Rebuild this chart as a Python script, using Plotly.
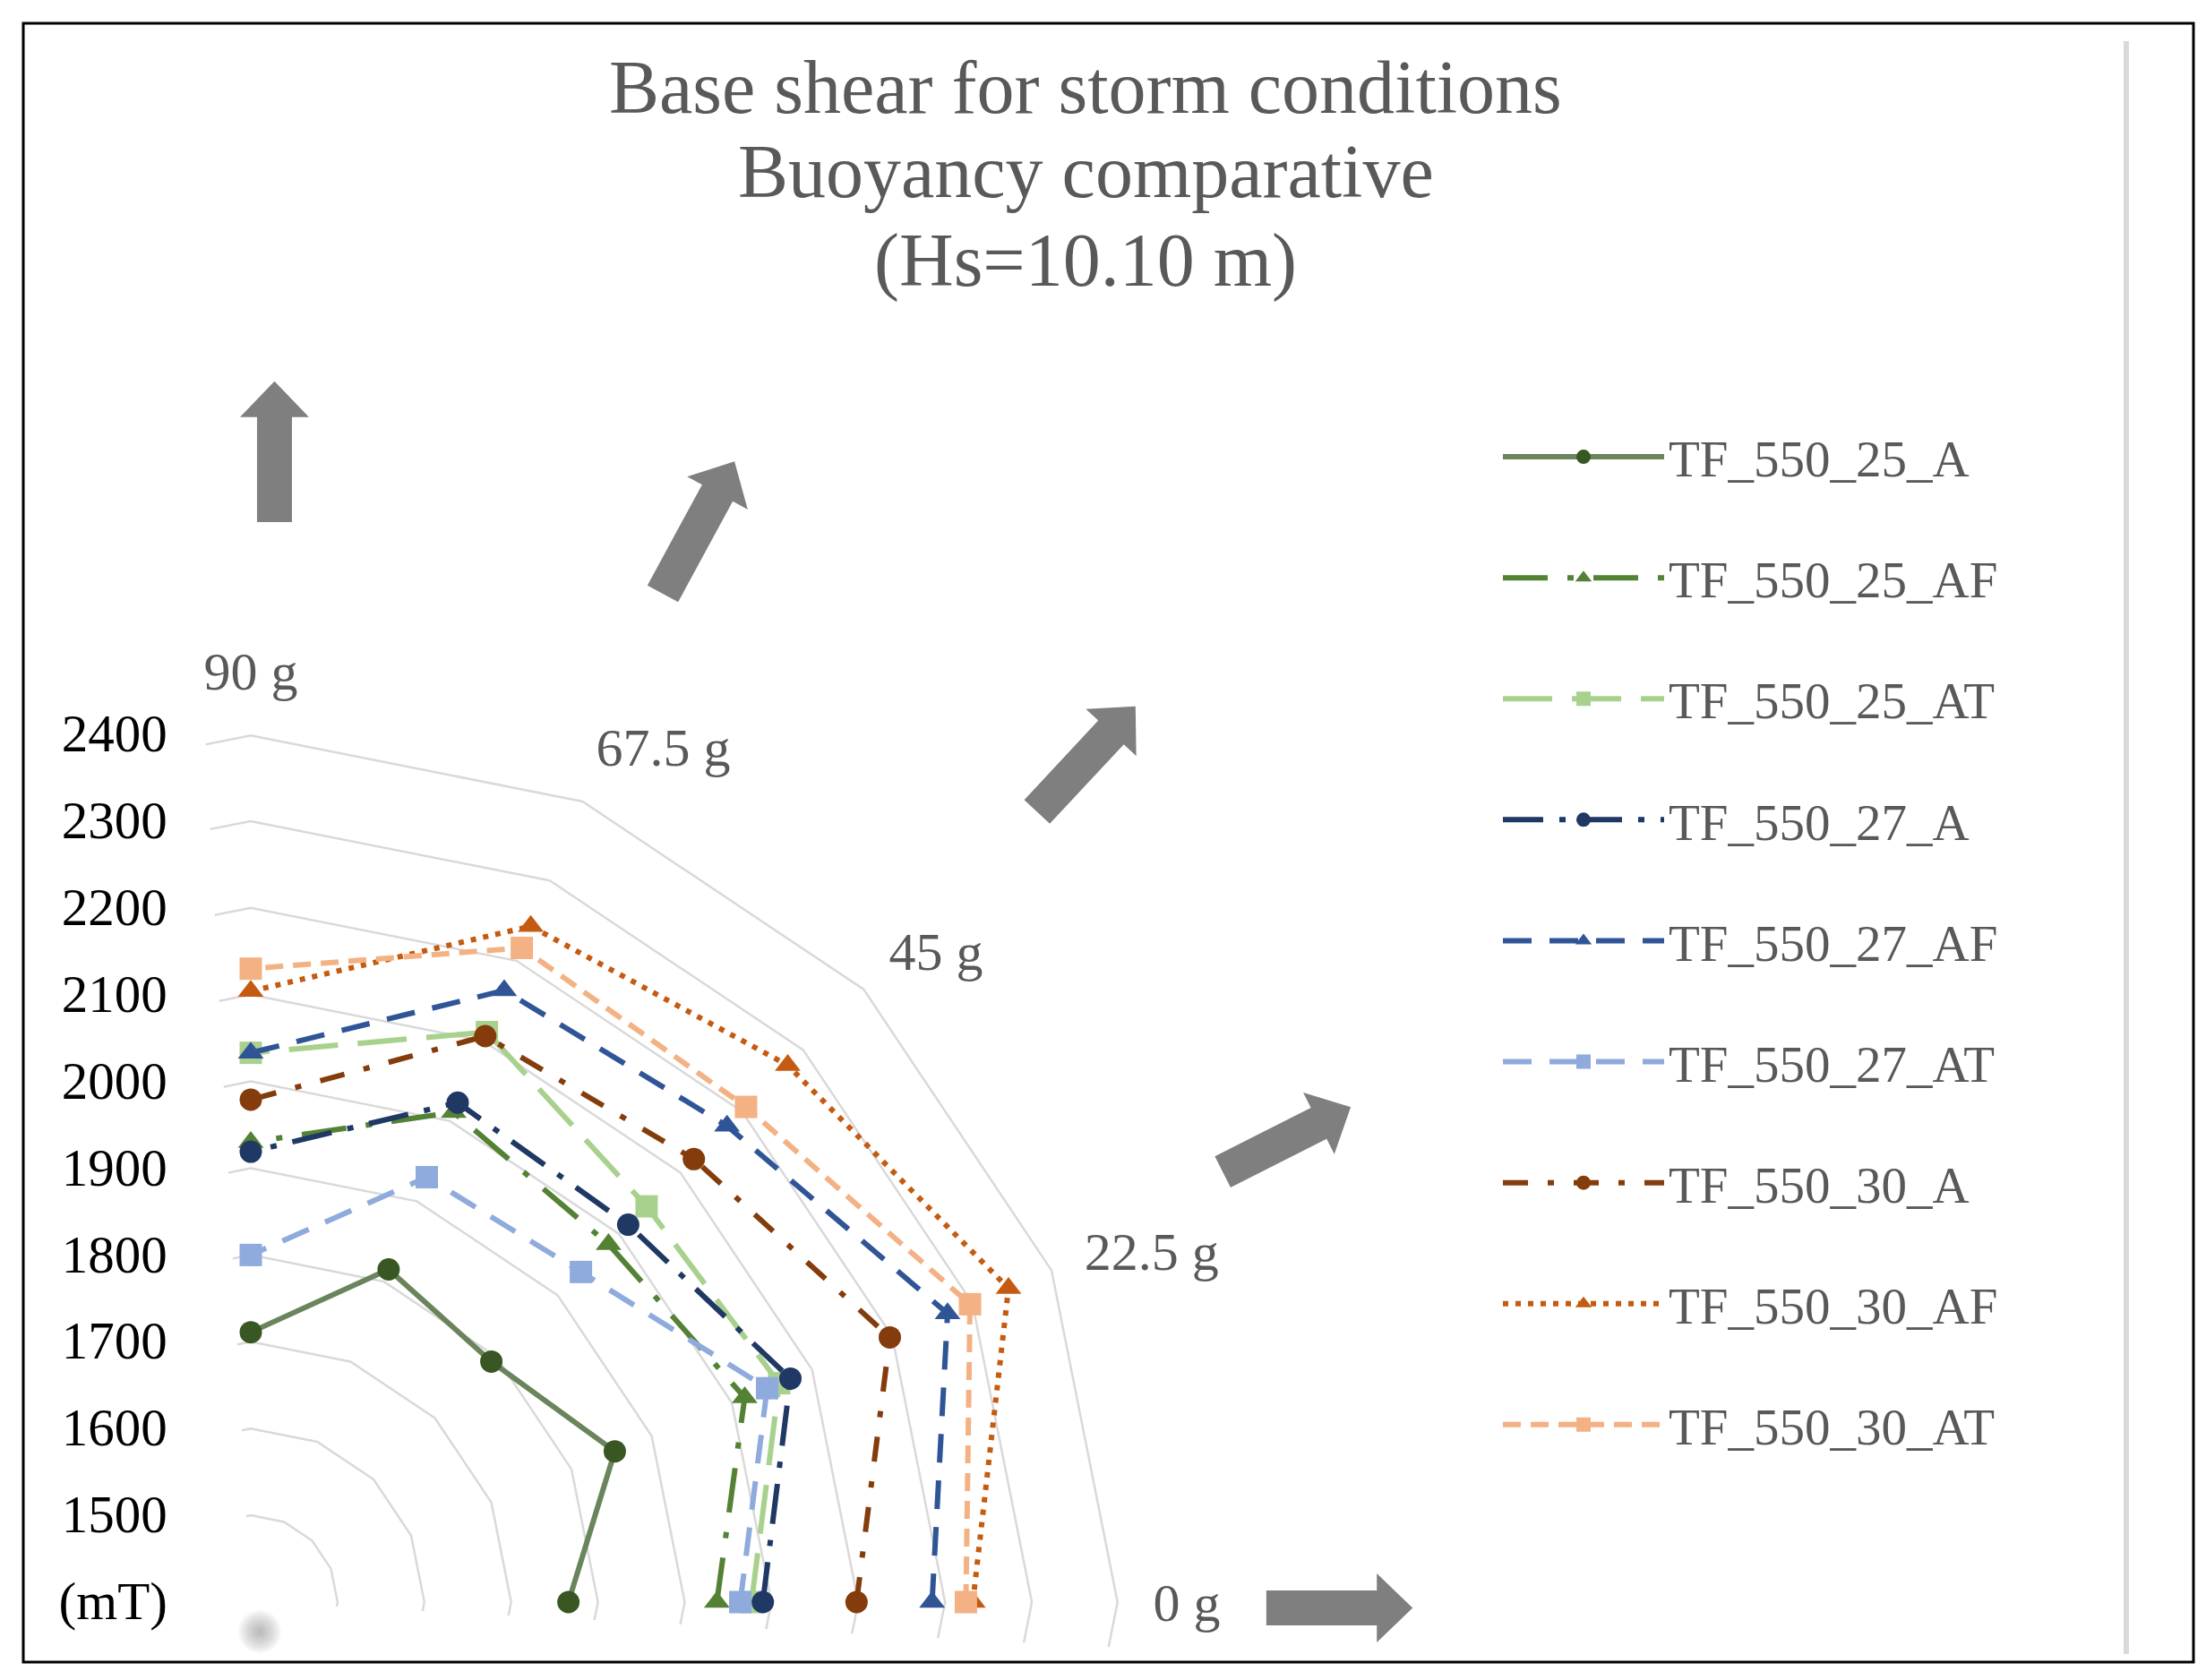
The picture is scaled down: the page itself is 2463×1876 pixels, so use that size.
import plotly.graph_objects as go

W, H = 2463, 1876

# ---------------- data ----------------
directions = ["0 g", "22.5 g", "45 g", "67.5 g", "90 g"]
unused_directions = [" " * k for k in range(1, 12)]  # remaining radar spokes (hidden)

radial_ticks = [1400, 1500, 1600, 1700, 1800, 1900, 2000, 2100, 2200, 2300, 2400]
radial_ticktext = ["(mT)", "1500", "1600", "1700", "1800", "1900", "2000", "2100", "2200", "2300", "2400"]

series_names = ["TF_550_25_A", "TF_550_25_AF", "TF_550_25_AT",
                "TF_550_27_A", "TF_550_27_AF", "TF_550_27_AT",
                "TF_550_30_A", "TF_550_30_AF", "TF_550_30_AT"]

tf_550_25_a = [1766, 1854, 1792, 1815, 1711]
tf_550_25_af = [1937, 2016, 1983, 2011, 1930]
tf_550_25_at = [1977, 2059, 2045, 2111, 2033]
tf_550_27_a = [1990, 2073, 2015, 2023, 1919]
tf_550_27_af = [2185, 2269, 2176, 2163, 2033]
tf_550_27_at = [1964, 2044, 1938, 1930, 1800]
tf_550_30_a = [2098, 2197, 2122, 2106, 1979]
tf_550_30_af = [2232, 2345, 2275, 2243, 2104]
tf_550_30_at = [2224, 2297, 2207, 2216, 2130]

values = [tf_550_25_a, tf_550_25_af, tf_550_25_at,
          tf_550_27_a, tf_550_27_af, tf_550_27_at,
          tf_550_30_a, tf_550_30_af, tf_550_30_at]

title_lines = ["Base shear for storm conditions", "Buoyancy comparative", "(Hs=10.10 m)"]

# ---------------- styles ----------------
styles = [
    dict(lc="#6A845C", mc="#385723", dash="solid", sym="circle"),
    dict(lc="#548235", mc="#548235", dash="50px,22px,7px,22px", sym="triangle-up"),
    dict(lc="#A9D18E", mc="#A9D18E", dash="55px,22px", sym="square"),
    dict(lc="#1F3864", mc="#1F3864", dash="45px,18px,7px,18px", sym="circle"),
    dict(lc="#2F5597", mc="#2F5597", dash="32px,20px", sym="triangle-up"),
    dict(lc="#8FAADC", mc="#8FAADC", dash="32px,20px", sym="square"),
    dict(lc="#843C0C", mc="#843C0C", dash="28px,22px,7px,22px", sym="circle"),
    dict(lc="#C55A11", mc="#C55A11", dash="6px,8px", sym="triangle-up"),
    dict(lc="#F4B183", mc="#F4B183", dash="20px,11px", sym="square"),
]

FONT = "Liberation Serif, Times New Roman, serif"

fig = go.Figure()

# radar grid polygons (drawn through the polar scale, clipped by the sector)
grid_theta = [unused_directions[-1]] + directions + [unused_directions[0]]
for lvl in radial_ticks[1:]:
    fig.add_trace(go.Scatterpolar(
        r=[lvl] * len(grid_theta), theta=grid_theta, mode="lines",
        line=dict(color="#D9D9D9", width=5 if lvl == radial_ticks[-1] else 2.5),
        showlegend=False, hoverinfo="skip",
    ))

for i, (name, vals, st) in enumerate(zip(series_names, values, styles)):
    fig.add_trace(go.Scatterpolar(
        r=vals, theta=directions, name=name, mode="lines+markers",
        line=dict(color=st["lc"], width=6, dash=st["dash"]),
        marker=dict(color=st["mc"], size=25, symbol=st["sym"]),
        legendgroup=name,
    ))

# ---------------- decorations (pixel -> paper) ----------------
def px(x, y):
    return x / W, 1 - y / H

def arrow_path(tail, tip, shaft_w, head_w, head_len):
    import math
    tx, ty = tail
    hx, hy = tip
    L = math.hypot(hx - tx, hy - ty)
    ux, uy = (hx - tx) / L, (hy - ty) / L
    nx, ny = -uy, ux
    bx, by = hx - ux * head_len, hy - uy * head_len
    pts = [
        (tx + nx * shaft_w / 2, ty + ny * shaft_w / 2),
        (bx + nx * shaft_w / 2, by + ny * shaft_w / 2),
        (bx + nx * head_w / 2, by + ny * head_w / 2),
        (hx, hy),
        (bx - nx * head_w / 2, by - ny * head_w / 2),
        (bx - nx * shaft_w / 2, by - ny * shaft_w / 2),
        (tx - nx * shaft_w / 2, ty - ny * shaft_w / 2),
    ]
    s = ""
    for k, (x, y) in enumerate(pts):
        X, Y = px(x, y)
        s += ("M" if k == 0 else "L") + f"{X:.5f},{Y:.5f} "
    return s + "Z"

S = 2463 / 1568
arrow_defs = [((190, 366), (190, 266)),
              ((466, 417), (517, 323)),
              ((732, 572), (802, 497)),
              ((864, 828), (955, 782)),
              ((895, 1138), (999, 1138))]
shapes = []
for tail, tip in arrow_defs:
    shapes.append(dict(type="path", xref="paper", yref="paper",
                       path=arrow_path((tail[0] * S, tail[1] * S), (tip[0] * S, tip[1] * S),
                                       39, 77, 40),
                       fillcolor="#7F7F7F", line=dict(width=0)))

# outer frame
x0, y0 = px(18, 18)
x1, y1 = px(2441, 1848)
shapes.append(dict(type="rect", xref="paper", yref="paper", x0=x0, y0=y1, x1=x1, y1=y0,
                   line=dict(color="black", width=3), fillcolor="rgba(0,0,0,0)"))
# light vertical separator at right
vx, vy0 = px(2366, 38)
_, vy1 = px(2366, 1839)
shapes.append(dict(type="line", xref="paper", yref="paper", x0=vx, x1=vx, y0=vy0, y1=vy1,
                   line=dict(color="#D9D9D9", width=6)))
# soft grey blob near origin
for k in range(12):
    rad = 24 - 2 * k
    cx, cy = 282, 1814
    ax0, ay0 = px(cx - rad, cy - rad)
    ax1, ay1 = px(cx + rad, cy + rad)
    shapes.append(dict(type="circle", xref="paper", yref="paper", x0=ax0, y0=ay1, x1=ax1, y1=ay0,
                       fillcolor="rgba(130,130,130,0.06)", line=dict(width=0)))

# title lines (tight line spacing as in the reference)
annotations = []
for line, yc in zip(title_lines, [57, 117, 180]):
    annotations.append(dict(text=line, xref="paper", yref="paper", x=0.489, y=1 - yc * S / H,
                            xanchor="center", yanchor="middle", showarrow=False,
                            font=dict(family=FONT, size=84, color="#595959")))

fig.update_layout(
    width=W, height=H,
    paper_bgcolor="white",
    margin=dict(l=0, r=0, t=0, b=0),
    polar=dict(
        domain=dict(x=[0.08984, 0.50385], y=[0.02361, 0.56716]),
        sector=[-3, 93],
        gridshape="linear",
        bgcolor="white",
        angularaxis=dict(type="category", categoryorder="array",
                         categoryarray=directions + unused_directions,
                         rotation=0, direction="counterclockwise",
                         showgrid=False, showline=False,
                         ticks="outside", ticklen=26, tickcolor="rgba(0,0,0,0)",
                         tickfont=dict(family=FONT, size=60, color="#595959")),
        radialaxis=dict(range=[1400, 2400], tickvals=radial_ticks, ticktext=radial_ticktext,
                        angle=90, side="counterclockwise", tickangle=90,
                        showline=False, showgrid=False,
                        ticks="outside", ticklen=72, tickcolor="rgba(0,0,0,0)",
                        tickfont=dict(family=FONT, size=59, color="black")),
    ),
    legend=dict(x=0.676, y=0.7556, xanchor="left", yanchor="top",
                font=dict(family=FONT, size=57, color="#595959"),
                itemwidth=180, tracegroupgap=58, bgcolor="rgba(0,0,0,0)"),
    shapes=shapes,
    annotations=annotations,
)

fig.write_html("out.html")
